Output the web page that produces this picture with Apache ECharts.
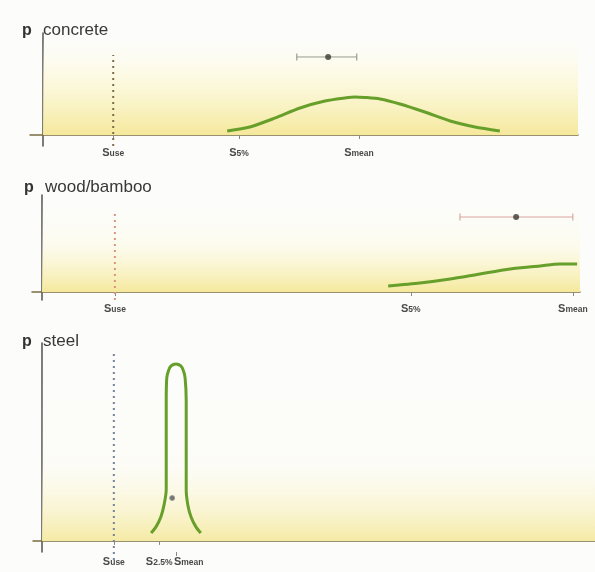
<!DOCTYPE html>
<html><head><meta charset="utf-8">
<script src="https://cdn.jsdelivr.net/npm/echarts@6/dist/echarts.min.js"></script>
<style>html,body{margin:0;padding:0;background:#fff}#c{width:595px;height:572px}</style>
</head><body><div id="c"></div>
<script>
// ---------- concrete ----------
const concreteX = [34.1, 38.3, 43.0, 47.6, 52.2, 55.9, 57.8, 59.6, 62.4, 66.1, 70.7, 75.4, 80.0, 84.6];
const concreteP = [0.039, 0.078, 0.167, 0.265, 0.333, 0.363, 0.373, 0.368, 0.353, 0.304, 0.225, 0.137, 0.078, 0.039];
const concreteTicks = [13.0, 36.3, 58.5];
const concreteTickSubs = ['use', '5%', 'mean'];
const concreteUse = 13.0;
const concreteUseRange = [-0.108, 0.784];
const concreteErr = [47.0, 52.8, 58.1];
const concreteErrP = 0.765;

// ---------- wood / bamboo ----------
const woodX = [64.1, 70.0, 75.6, 81.1, 86.7, 92.2, 95.9, 99.1];
const woodP = [0.062, 0.093, 0.134, 0.186, 0.237, 0.268, 0.289, 0.289];
const woodTicks = [13.5, 68.3, 98.3];
const woodTickSubs = ['use', '5%', 'mean'];
const woodUse = 13.5;
const woodUseRange = [-0.082, 0.814];
const woodErr = [77.4, 87.8, 98.3];
const woodErrP = 0.773;

// ---------- steel ----------
const steelX = [20.2, 21.1, 22.0, 22.6, 23.0, 23.0, 23.0, 23.1, 23.4, 23.9, 24.8, 25.7, 26.2, 26.5, 26.7, 26.7, 26.7, 27.0, 27.6, 28.5, 29.4];
const steelP = [0.040, 0.071, 0.121, 0.182, 0.258, 0.460, 0.712, 0.823, 0.859, 0.884, 0.894, 0.884, 0.859, 0.823, 0.712, 0.460, 0.258, 0.182, 0.121, 0.071, 0.040];
const steelTicks = [13.3, 21.7];
const steelTickSubs = ['use', '2.5%'];
const steelMeanTick = [24.8];
const steelMeanSub = ['mean'];
const steelUse = 13.3;
const steelUseRange = [-0.096, 0.949];
const steelMark = [24.1, 0.217];

const titles = ['concrete', 'wood/bamboo', 'steel'];

const green = '#679f2b';
const zip = (xs, ys) => xs.map((x, i) => [x, ys[i]]);

function labelFormatter(ticks, subs) {
  return function (v) {
    let best = 0;
    for (let i = 1; i < ticks.length; i++) if (Math.abs(ticks[i] - v) < Math.abs(ticks[best] - v)) best = i;
    return '{m|S}{s|' + subs[best] + '}';
  };
}
const rich = {
  m: {fontSize: 11, fontWeight: 'bold', color: '#4a4a4a', verticalAlign: 'bottom', fontFamily: 'Liberation Sans'},
  s: {fontSize: 8.5, fontWeight: 'bold', color: '#4a4a4a', verticalAlign: 'bottom', fontFamily: 'Liberation Sans'}
};

function xAxisFor(idx, min, max, ticks, subs, margin) {
  return {
    gridIndex: idx, type: 'value', min: min, max: max, position: 'bottom',
    axisLine: {show: true, onZero: true, lineStyle: {color: '#7a6c42', width: 1.5}},
    axisTick: {show: true, customValues: ticks, length: 4, lineStyle: {color: '#888', width: 1}},
    axisLabel: {show: true, customValues: ticks, hideOverlap: false,
      formatter: labelFormatter(ticks, subs), rich: rich, margin: margin},
    splitLine: {show: false}
  };
}
function yAxisFor(idx, min) {
  return {
    gridIndex: idx, type: 'value', min: min, max: 1,
    axisLine: {show: true, onZero: true, lineStyle: {color: '#5a5a5a', width: 1.6}},
    axisTick: {show: false}, axisLabel: {show: false}, splitLine: {show: false}
  };
}
function band(xmax, stops) {
  return {
    silent: true,
    itemStyle: {color: {type: 'linear', x: 0, y: 0, x2: 0, y2: 1, colorStops: stops}},
    data: [[{xAxis: 0, yAxis: 0}, {xAxis: xmax, yAxis: 1}]]
  };
}
function curve(idx, data, xmax, stops) {
  return {type: 'line', xAxisIndex: idx, yAxisIndex: idx, data: data, smooth: 0.25, showSymbol: false,
    lineStyle: {color: green, width: 3}, z: 5, markArea: band(xmax, stops)};
}
function useLine(idx, x, range, color) {
  return {type: 'line', xAxisIndex: idx, yAxisIndex: idx, data: [[x, range[0]], [x, range[1]]],
    showSymbol: false, clip: false, lineStyle: {color: color, width: 2, type: [2, 4]}, z: 3};
}
function errBar(idx, err, y, color) {
  return [
    {type: 'line', xAxisIndex: idx, yAxisIndex: idx, data: [[err[0], y], [err[2], y]],
      symbol: 'rect', symbolSize: [1.2, 7], itemStyle: {color: color}, lineStyle: {color: color, width: 1}, z: 4},
    {type: 'scatter', xAxisIndex: idx, yAxisIndex: idx, data: [[err[1], y]], symbolSize: 6,
      itemStyle: {color: '#3a3a30'}, z: 6}
  ];
}

const pStyle = {fontSize: 16, fontWeight: 'bold', color: '#333', fontFamily: 'Liberation Sans'};
const titleStyle = {fontSize: 17, fontWeight: 'normal', color: '#383838', fontFamily: 'Liberation Sans'};
const xMax = [99.07, 99.63, 102.4];
const xMin = [-2.41, -1.85, -1.67];

const meanAxis = xAxisFor(2, xMin[2], xMax[2], steelMeanTick, steelMeanSub, 4);
meanAxis.axisLine = {show: false, onZero: true};
meanAxis.axisLabel.align = 'left';
meanAxis.axisLabel.padding = [0, 0, 0, -2];

const option = {
  backgroundColor: '#fcfcfb',
  animation: false,
  title: [
    {text: 'p', left: 22, top: 23, padding: 0, textStyle: pStyle},
    {text: titles[0], left: 43, top: 22, padding: 0, textStyle: titleStyle},
    {text: 'p', left: 24, top: 180, padding: 0, textStyle: pStyle},
    {text: titles[1], left: 45, top: 179, padding: 0, textStyle: titleStyle},
    {text: 'p', left: 22, top: 334, padding: 0, textStyle: pStyle},
    {text: titles[2], left: 43, top: 333, padding: 0, textStyle: titleStyle}
  ],
  grid: [
    {left: 30, right: 17, top: 33, bottom: 426},
    {left: 32, right: 15, top: 195, bottom: 272},
    {left: 33, right: 0, top: 343, bottom: 20}
  ],
  xAxis: [
    xAxisFor(0, xMin[0], xMax[0], concreteTicks, concreteTickSubs, 1),
    xAxisFor(1, xMin[1], xMax[1], woodTicks, woodTickSubs, 3),
    xAxisFor(2, xMin[2], xMax[2], steelTicks, steelTickSubs, 4),
    meanAxis
  ],
  yAxis: [yAxisFor(0, -0.108), yAxisFor(1, -0.082), yAxisFor(2, -0.056)],
  series: [
    curve(0, zip(concreteX, concreteP), xMax[0], [
      {offset: 0, color: 'rgba(255,255,240,0)'},
      {offset: 0.4, color: 'rgba(252,249,214,0.6)'},
      {offset: 1, color: 'rgba(245,232,155,1)'}]),
    useLine(0, concreteUse, concreteUseRange, '#7d6d4b'),
    ...errBar(0, concreteErr, concreteErrP, '#9a9a92'),

    curve(1, zip(woodX, woodP), xMax[1], [
      {offset: 0, color: 'rgba(255,255,240,0)'},
      {offset: 0.45, color: 'rgba(253,251,225,0.35)'},
      {offset: 1, color: 'rgba(245,232,155,1)'}]),
    useLine(1, woodUse, woodUseRange, '#d9977a'),
    ...errBar(1, woodErr, woodErrP, '#dba5a0'),

    curve(2, zip(steelX, steelP), xMax[2], [
      {offset: 0, color: 'rgba(255,255,240,0)'},
      {offset: 0.6, color: 'rgba(254,252,232,0.2)'},
      {offset: 1, color: 'rgba(245,234,165,1)'}]),
    useLine(2, steelUse, steelUseRange, '#76849a'),
    {type: 'scatter', xAxisIndex: 2, yAxisIndex: 2, data: [steelMark], symbolSize: 5,
      itemStyle: {color: '#555', borderColor: '#999', borderWidth: 1}, z: 6}
  ]
};
const chart = echarts.init(document.getElementById('c'), null, {renderer: 'canvas'});
chart.setOption(option);
</script>
</body></html>
